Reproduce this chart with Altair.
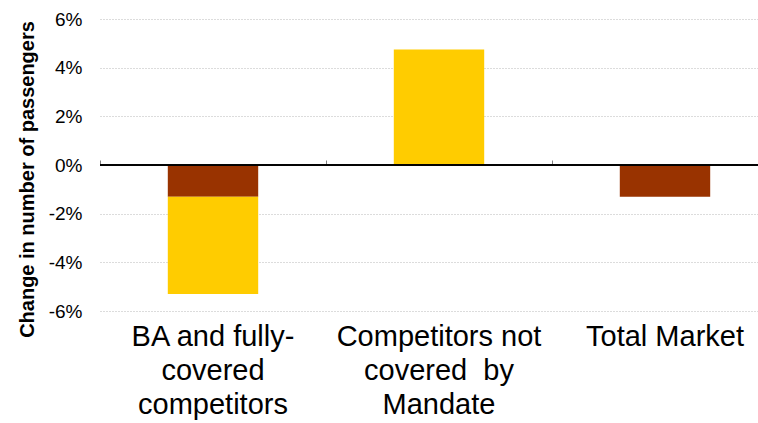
import altair as alt
import pandas as pd

# Categories (| marks a line break in the axis label)
categories = ["BA and fully-|covered|competitors", "Competitors not|covered\u00a0 by|Mandate", "Total Market"]
# Two stacked components (percent change in number of passengers)
dark_values = [-1.3, 0.0, -1.3]
yellow_values = [-4.0, 4.75, 0.0]
y_ticks = [-6, -4, -2, 0, 2, 4, 6]

rows = []
for c, d, y in zip(categories, dark_values, yellow_values):
    rows.append({"cat": c, "comp": "dark", "value": d, "ord": 1})
    rows.append({"cat": c, "comp": "yellow", "value": y, "ord": 2})
df = pd.DataFrame(rows)
df = df[df["value"] != 0]
cats_df = pd.DataFrame({"cat": categories})

xscale = alt.Scale(domain=categories, range=[0, 678], paddingInner=0.6, paddingOuter=0.3)
xscale_ticks = alt.Scale(domain=categories, range=[0, 678], paddingInner=0, paddingOuter=0)
yscale = alt.Scale(domain=[-6, 6], nice=False, zero=False)

bars = alt.Chart(df).mark_bar().encode(
    x=alt.X("cat:N", scale=xscale, sort=categories,
            axis=alt.Axis(title=None, labelAngle=0, domain=False, ticks=False,
                          labelExpr="split(datum.label, '|')", labelLimit=0,
                          labelFontSize=29, labelLineHeight=34, labelPadding=11,
                          labelColor="black", labelFont="Liberation Sans",
                          labelBaseline="top")),
    y=alt.Y("value:Q", stack="zero", scale=yscale,
            axis=alt.Axis(values=y_ticks, labelExpr="datum.value + '%'",
                          domain=False, ticks=False, grid=True,
                          gridColor="#b8b8b8", gridDash=[1, 2], gridWidth=1,
                          labelFontSize=19, labelColor="black", labelPadding=18,
                          labelFont="Liberation Sans",
                          title="Change in number of passengers",
                          titleFontSize=20, titleFontWeight="bold", titleColor="black",
                          titleFont="Liberation Sans",
                          titleX=-73, titleY=160, titleAngle=270,
                          titleAlign="center", titleBaseline="middle")),
    color=alt.Color("comp:N", scale=alt.Scale(domain=["dark", "yellow"],
                                              range=["#993300", "#FFCC00"]), legend=None),
    order=alt.Order("ord:Q"),
)

tick_layer = alt.Chart(cats_df).mark_point(opacity=0).encode(
    x=alt.X("cat:N", scale=xscale_ticks, sort=categories,
            axis=alt.Axis(title=None, labels=False, domain=False, ticks=True,
                          tickBand="extent", tickSize=5, tickColor="#808080",
                          offset=-146)),
)

zero = alt.Chart(cats_df).mark_rule(color="black", strokeWidth=1.5).encode(
    y=alt.datum(0, scale=yscale)
)

chart = alt.layer(bars, tick_layer, zero).resolve_scale(x="independent").resolve_axis(
    x="independent").properties(
    width=658, height=292,
    autosize=alt.AutoSizeParams(type="none"),
    padding={"left": 100, "top": 19, "right": 0, "bottom": 112},
).configure_view(stroke=None)

chart.save("out.html", embed_options={"renderer": "svg", "actions": False})
